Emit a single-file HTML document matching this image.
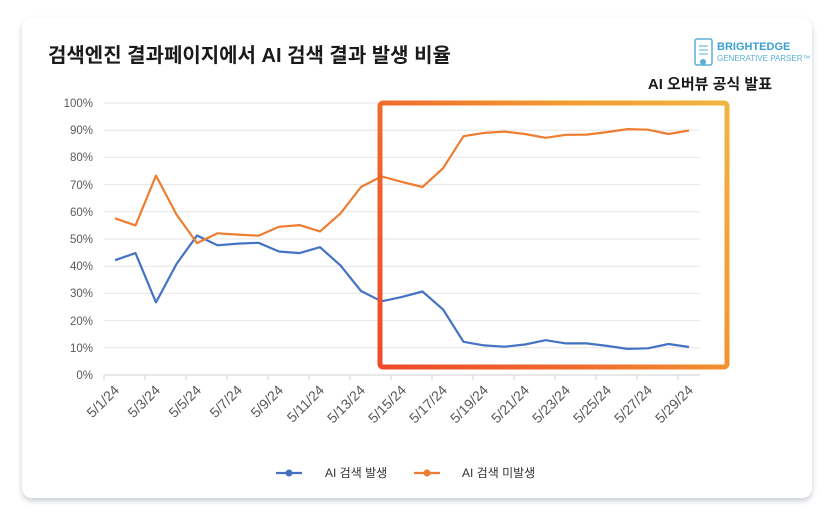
<!DOCTYPE html>
<html><head><meta charset="utf-8"><style>
body{margin:0;background:#fff;width:833px;height:522px;overflow:hidden;font-family:"Liberation Sans","Noto Sans CJK KR",sans-serif}
</style></head><body>
<svg width="833" height="522" xmlns="http://www.w3.org/2000/svg" style="font-family:'Liberation Sans','Noto Sans CJK KR',sans-serif">
<defs>
<linearGradient id="g" gradientUnits="userSpaceOnUse" x1="380" y1="367" x2="727" y2="103"><stop offset="0" stop-color="#ee4a2a"/><stop offset="0.35" stop-color="#f06a2c"/><stop offset="0.7" stop-color="#f29a30"/><stop offset="1" stop-color="#f0b540"/></linearGradient>
<filter id="sh" x="-5%" y="-5%" width="110%" height="115%"><feDropShadow dx="0" dy="3" stdDeviation="3" flood-color="#8890a0" flood-opacity="0.45"/></filter>
</defs>
<rect x="22" y="18" width="790" height="480" rx="10" fill="#fff" filter="url(#sh)"/>
<text x="48" y="62" font-size="20" font-weight="bold" fill="#1a1a1a">검색엔진 결과페이지에서 AI 검색 결과 발생 비율</text>
<g>
<rect x="695" y="39" width="17" height="26" rx="2" fill="none" stroke="#5aaed6" stroke-width="1.5"/>
<line x1="699" x2="708" y1="46" y2="46" stroke="#5aaed6"/><line x1="699" x2="708" y1="50" y2="50" stroke="#5aaed6"/><line x1="699" x2="708" y1="54" y2="54" stroke="#5aaed6"/>
<circle cx="703" cy="62" r="3" fill="#5aaed6"/>
<text x="717" y="50" font-size="11" font-weight="bold" fill="#3b9fd0">BRIGHTEDGE</text>
<text x="717" y="61" font-size="8" fill="#5aaed6">GENERATIVE PARSER™</text>
</g>
<text x="772" y="89" font-size="15" font-weight="bold" fill="#1a1a1a" text-anchor="end">AI 오버뷰 공식 발표</text>
<g stroke="#e6e6e6" stroke-width="1">
<line x1="104" x2="700" y1="103" y2="103"/><line x1="104" x2="700" y1="130.2" y2="130.2"/><line x1="104" x2="700" y1="157.4" y2="157.4"/><line x1="104" x2="700" y1="184.6" y2="184.6"/><line x1="104" x2="700" y1="211.8" y2="211.8"/><line x1="104" x2="700" y1="239" y2="239"/><line x1="104" x2="700" y1="266.2" y2="266.2"/><line x1="104" x2="700" y1="293.4" y2="293.4"/><line x1="104" x2="700" y1="320.6" y2="320.6"/><line x1="104" x2="700" y1="347.8" y2="347.8"/>
</g>
<line x1="104" x2="700" y1="375" y2="375" stroke="#d0d0d0"/>
<g stroke="#d0d0d0"><line x1="104" x2="104" y1="375" y2="380"/><line x1="145" x2="145" y1="375" y2="380"/><line x1="186" x2="186" y1="375" y2="380"/><line x1="227" x2="227" y1="375" y2="380"/><line x1="268" x2="268" y1="375" y2="380"/><line x1="309" x2="309" y1="375" y2="380"/><line x1="350" x2="350" y1="375" y2="380"/><line x1="391" x2="391" y1="375" y2="380"/><line x1="432" x2="432" y1="375" y2="380"/><line x1="473" x2="473" y1="375" y2="380"/><line x1="514" x2="514" y1="375" y2="380"/><line x1="555" x2="555" y1="375" y2="380"/><line x1="596" x2="596" y1="375" y2="380"/><line x1="637" x2="637" y1="375" y2="380"/><line x1="678" x2="678" y1="375" y2="380"/></g>
<g font-size="11.5" fill="#595959" text-anchor="end">
<text x="93" y="107">100%</text><text x="93" y="134">90%</text><text x="93" y="161">80%</text><text x="93" y="189">70%</text><text x="93" y="216">60%</text><text x="93" y="243">50%</text><text x="93" y="270">40%</text><text x="93" y="297">30%</text><text x="93" y="325">20%</text><text x="93" y="352">10%</text><text x="93" y="379">0%</text>
</g>
<g font-size="14" fill="#595959" text-anchor="end">
<text transform="translate(120,391) rotate(-45)">5/1/24</text>
<text transform="translate(161,391) rotate(-45)">5/3/24</text>
<text transform="translate(202,391) rotate(-45)">5/5/24</text>
<text transform="translate(243,391) rotate(-45)">5/7/24</text>
<text transform="translate(284,391) rotate(-45)">5/9/24</text>
<text transform="translate(325,391) rotate(-45)">5/11/24</text>
<text transform="translate(366,391) rotate(-45)">5/13/24</text>
<text transform="translate(407,391) rotate(-45)">5/15/24</text>
<text transform="translate(448,391) rotate(-45)">5/17/24</text>
<text transform="translate(489,391) rotate(-45)">5/19/24</text>
<text transform="translate(530,391) rotate(-45)">5/21/24</text>
<text transform="translate(571,391) rotate(-45)">5/23/24</text>
<text transform="translate(612,391) rotate(-45)">5/25/24</text>
<text transform="translate(653,391) rotate(-45)">5/27/24</text>
<text transform="translate(694,391) rotate(-45)">5/29/24</text>
</g>
<polyline fill="none" stroke="#4472c4" stroke-width="2.2" stroke-linejoin="round" points="115,260.2 135.5,253.1 156,302.4 176.5,264 197,235.5 217.5,245.3 238,243.6 258.5,242.8 279,251.5 299.5,253.1 320,247.2 340.5,265.4 361,291 381.5,301.3 402,296.9 422.5,291.5 443,309.4 463.5,341.8 484,345.4 504.5,346.7 525,344.5 545.5,340.2 566,343.4 586.5,343.4 607,345.9 627.5,348.9 648,348.3 668.5,344 689,347"/>
<polyline fill="none" stroke="#ed7d31" stroke-width="2.2" stroke-linejoin="round" points="115,218.3 135.5,225.4 156,175.6 176.5,214.5 197,243.1 217.5,233.3 238,234.6 258.5,235.7 279,226.8 299.5,225.1 320,231.4 340.5,213.4 361,187 381.5,176.4 402,181.9 422.5,187 443,168.3 463.5,136.2 484,132.9 504.5,131.6 525,134 545.5,137.8 566,134.8 586.5,134.6 607,132.1 627.5,129.1 648,129.7 668.5,134 689,130.5"/>
<rect x="380" y="103" width="347" height="264" rx="3" fill="none" stroke="url(#g)" stroke-width="5"/>
<line x1="276" x2="302" y1="473" y2="473" stroke="#4472c4" stroke-width="2.2"/><circle cx="289" cy="473" r="3.5" fill="#4472c4"/>
<text x="325" y="477" font-size="12" fill="#333">AI 검색 발생</text>
<line x1="414" x2="440" y1="473" y2="473" stroke="#ed7d31" stroke-width="2.2"/><circle cx="427" cy="473" r="3.5" fill="#ed7d31"/>
<text x="462" y="477" font-size="12" fill="#333">AI 검색 미발생</text>
</svg>
</body></html>
